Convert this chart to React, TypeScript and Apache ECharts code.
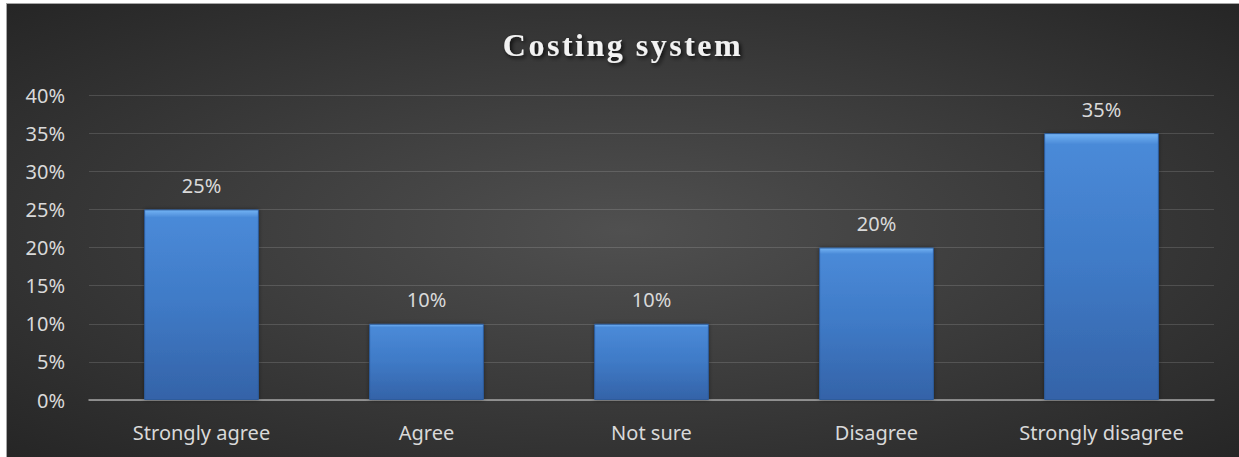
import React, { useEffect, useRef } from "react";
import * as echarts from "echarts";

const TITLE = "Costing system";
const categories = ["Strongly agree", "Agree", "Not sure", "Disagree", "Strongly disagree"];
const values = [25, 10, 10, 20, 35];
const yMax = 40;
const yStep = 5;

export default function App() {
  const ref = useRef<HTMLDivElement>(null);
  useEffect(() => {
    if (!ref.current) return;
    const chart = echarts.init(ref.current, null, { renderer: "svg" });
    chart.setOption({
      animation: false,
      backgroundColor: new echarts.graphic.RadialGradient(0.5, 0.5, 0.75, [
        { offset: 0, color: "#505050" },
        { offset: 1, color: "#232323" },
      ]),
      title: {
        text: TITLE,
        left: "center",
        top: 20,
        textStyle: {
          fontFamily: "'Liberation Serif', serif",
          fontWeight: "bold",
          fontSize: 32,
          color: "#f2f2f2",
          textShadowColor: "rgba(0,0,0,0.8)",
          textShadowBlur: 4,
          textShadowOffsetX: 2,
          textShadowOffsetY: 2,
        },
      },
      grid: { left: 82, right: 25, top: 91, bottom: 57 },
      xAxis: {
        type: "category",
        data: categories,
        axisLine: { show: true, lineStyle: { color: "#a6a6a6", width: 1.5 } },
        axisTick: { show: false },
        axisLabel: {
          color: "#d9d9d9",
          fontFamily: "'Noto Sans', sans-serif",
          fontSize: 20,
          margin: 22,
        },
      },
      yAxis: {
        type: "value",
        min: 0,
        max: yMax,
        interval: yStep,
        axisLine: { show: false },
        axisTick: { show: false },
        splitLine: { lineStyle: { color: "rgba(255,255,255,0.14)", width: 1.2 } },
        axisLabel: {
          color: "#d9d9d9",
          fontFamily: "'Noto Sans', sans-serif",
          fontSize: 20,
          margin: 24,
          formatter: (v: number) => `${v}%`,
        },
      },
      series: [
        {
          type: "bar",
          data: values,
          barWidth: "51%",
          itemStyle: {
            color: new echarts.graphic.LinearGradient(0, 0, 0, 1, [
              { offset: 0, color: "#74b4f4" },
              { offset: 0.04, color: "#4a8ad8" },
              { offset: 0.5, color: "#3f7ac6" },
              { offset: 1, color: "#3463a8" },
            ]),
            borderColor: "#2d5c9c",
            borderWidth: 1,
            shadowColor: "rgba(0,0,0,0.4)",
            shadowBlur: 4,
          },
          label: {
            show: true,
            position: "top",
            distance: 14,
            color: "#d9d9d9",
            fontFamily: "'Noto Sans', sans-serif",
            fontSize: 20,
            formatter: (p: any) => `${p.value}%`,
          },
        },
      ],
    });
    ref.current.querySelectorAll("text").forEach((t) => {
      if (t.textContent === TITLE) t.setAttribute("letter-spacing", "2.5");
    });
    return () => chart.dispose();
  }, []);
  return (
    <div
      ref={ref}
      style={{
        position: "absolute",
        left: 6,
        top: 3,
        width: 1233,
        height: 454,
        borderTop: "1px solid #a6a6a6",
        borderLeft: "1px solid #a6a6a6",
        boxSizing: "border-box",
      }}
    />
  );
}
